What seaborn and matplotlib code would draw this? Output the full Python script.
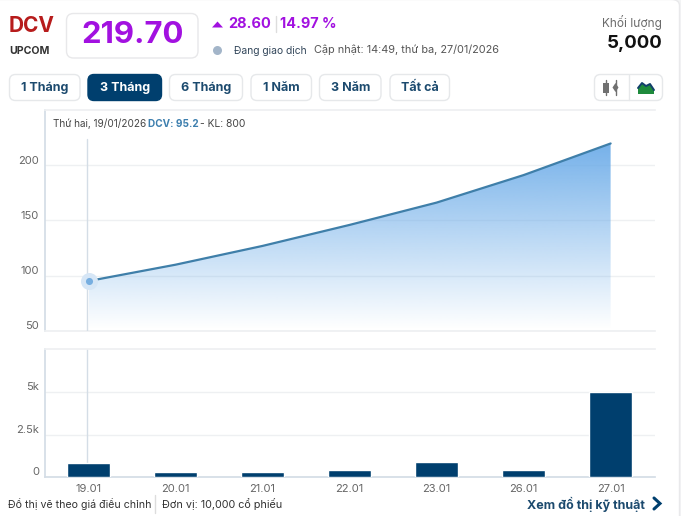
import numpy as np
import pandas as pd
import matplotlib
matplotlib.use("Agg")
import matplotlib.pyplot as plt
from matplotlib.patches import FancyBboxPatch, Rectangle, Circle, Polygon
from matplotlib.colors import to_rgb
from matplotlib.transforms import ScaledTranslation
import seaborn as sns

dates = ["19.01", "20.01", "21.01", "22.01", "23.01", "26.01", "27.01"]
prices = [95.2, 110, 127, 146, 166.2, 191.1, 219.7]
volumes = [800, 300, 300, 400, 900, 400, 5000]
price_ticks = [50, 100, 150, 200]
volume_ticks = [0, 2500, 5000]
volume_tick_labels = ["0", "2.5k", "5k"]
periods = ["1 Tháng", "3 Tháng", "6 Tháng", "1 Năm", "3 Năm", "Tất cả"]

sns.set_theme(style="white")
plt.rcParams["font.family"] = ["Inter", "DejaVu Sans"]

W, H = 681, 516
fig = plt.figure(figsize=(W / 100, H / 100), dpi=100, facecolor="#f3f4f5")
fig.add_artist(FancyBboxPatch((-10 / W, -10 / H), 689.5 / W, 516 / H + 0.001 + 10 / H,
                              boxstyle="round,pad=0,rounding_size=0.012", fc="white", ec="#e9e9eb",
                              lw=1, transform=fig.transFigure, zorder=-5))

def axes_px(l, t, r, b):
    return fig.add_axes([l / W, 1 - b / H, (r - l) / W, (b - t) / H])

NAVY = "#003f6e"
GRID = "#eef0f2"
AXISC = "#d4dde6"
TICK = "#666666"
X_RIGHT = 6.51

def lift_labels(a):
    for t in a.get_yticklabels():
        t.set_transform(t.get_transform() + ScaledTranslation(0, 4 / 72, fig.dpi_scale_trans))

df = pd.DataFrame({"date": dates, "price": prices, "volume": volumes})

# Price panel
ax = axes_px(45, 110, 655, 331)
ax.set_facecolor("none")
x = np.arange(len(dates))
sns.lineplot(x=x, y=df["price"], ax=ax, color="#3f7fa9", lw=1.6, zorder=4)
poly = ax.fill_between(x, df["price"], 50, color="none", lw=0)
grad = np.zeros((256, 1, 4))
grad[:, :, :3] = to_rgb("#69aae8")
grad[:, 0, 3] = np.linspace(0.92, 0, 256)
img = ax.imshow(grad, aspect="auto", extent=[0, 6, 52, max(prices)], zorder=2)
img.set_clip_path(poly.get_paths()[0], transform=ax.transData)
ax.set_xlim(-0.5, X_RIGHT)
ax.set_ylim(50, 250)
ax.set_yticks(price_ticks)
ax.set_xticks([])
ax.set_xlabel("")
ax.set_ylabel("")
ax.grid(axis="y", color=GRID, lw=1)
ax.set_axisbelow(True)
ax.tick_params(axis="y", length=0, labelsize=8, labelcolor=TICK, pad=4.3)
ax.spines["top"].set_color(GRID)
ax.spines["right"].set_visible(False)
ax.spines["left"].set_color(AXISC)
ax.spines["bottom"].set_color(GRID)
ax.plot([-0.012, -0.012], [50, 224], color=AXISC, lw=1, zorder=3)
ax.scatter([0], [prices[0]], s=150, color="#d6e6f6", zorder=5, lw=0)
ax.scatter([0], [prices[0]], s=26, color="#77aee0", zorder=6, lw=0)
lift_labels(ax)

# Volume panel
ax2 = axes_px(45, 349, 655, 477)
ax2.set_facecolor("none")
sns.barplot(data=df, x="date", y="volume", ax=ax2, color=NAVY, width=0.49,
            saturation=1, zorder=3)
ax2.set_xlim(-0.5, X_RIGHT)
ax2.set_ylim(0, 7530)
ax2.set_yticks(volume_ticks)
ax2.set_yticklabels(volume_tick_labels)
ax2.set_xlabel("")
ax2.set_ylabel("")
ax2.grid(axis="y", color=GRID, lw=1)
ax2.set_axisbelow(True)
ax2.tick_params(axis="y", length=0, labelsize=8, labelcolor=TICK, pad=4.3)
ax2.tick_params(axis="x", length=4, width=1, color=AXISC, labelsize=8, labelcolor=TICK, pad=1)
ax2.spines["top"].set_color(GRID)
ax2.spines["right"].set_visible(False)
ax2.spines["left"].set_color(AXISC)
ax2.spines["bottom"].set_color(AXISC)
ax2.axvline(-0.012, color=AXISC, lw=1, zorder=2)
lift_labels(ax2)

# Page overlay in pixel coordinates
ov = fig.add_axes([0, 0, 1, 1], zorder=10)
ov.set_xlim(0, W)
ov.set_ylim(H, 0)
ov.axis("off")
ov.patch.set_alpha(0)

def box(l, t, r, b, fc="white", ec="#e6e8ea", rad=6):
    ov.add_patch(FancyBboxPatch((l + rad, t + rad), r - l - 2 * rad, b - t - 2 * rad,
                                boxstyle=f"round,pad={rad},rounding_size={rad}",
                                fc=fc, ec=ec, lw=1))

def txt(x, y, s, size, color="#333333", weight="normal", ha="left"):
    ov.text(x, y, s, fontsize=size, color=color, fontweight=weight, ha=ha, va="center")

PURPLE = "#a211e0"
txt(8.5, 26, "DCV", 15, "#b71c1c", "bold")
txt(9, 51, "UPCOM", 7.6, "#333333", "bold")
box(66.5, 13.5, 198, 58, ec="#e8e8ea", rad=7)
txt(132.5, 35, "219.70", 22.4, PURPLE, "bold", "center")
ov.add_patch(Polygon([[212, 27.5], [223, 27.5], [217.5, 21.5]], fc=PURPLE, ec="none"))
txt(228, 24, "28.60", 10.5, PURPLE, "bold")
ov.plot([275.5, 275.5], [16, 32], color="#dddddd", lw=1)
txt(280.5, 24, "14.97 %", 10.4, PURPLE, "bold")
ov.add_patch(Circle((217.5, 50.5), 4.5, fc="#a3b5c9", ec="none"))
txt(234, 51, "Đang giao dịch", 7.4, "#33475b")
txt(313.5, 50, "Cập nhật: 14:49, thứ ba, 27/01/2026", 7.85, "#555555")
txt(662, 23, "Khối lượng", 8.5, "#6b6b6b", ha="right")
txt(662, 44, "5,000", 13.4, "#111111", "bold", "right")

btn_edges = [(9.5, 80), (88, 161.5), (169.5, 242.5), (251, 311.5), (319.5, 381), (390, 449.5)]
for (l, r), label in zip(btn_edges, periods):
    active = label == "3 Tháng"
    box(l, 74.5, r, 100.5, fc=NAVY if active else "white", ec=NAVY if active else "#e6e8ea", rad=6)
    txt((l + r) / 2, 88, label, 9, "white" if active else "#1c4a6e", "bold", "center")

box(594.5, 74.5, 662.5, 100.5, rad=6)
ov.plot([629, 629], [75, 100], color="#e6e8ea", lw=1)
for cx in (605.5, 615.5):
    ov.plot([cx, cx], [80, 95], color="#707070", lw=1)
ov.add_patch(Rectangle((603, 82.5), 5.5, 10, fc="#707070", ec="none"))
ov.add_patch(Polygon([[612.5, 87.5], [615.5, 83], [618.5, 87.5], [615.5, 92]], fc="#707070", ec="none"))
ov.add_patch(Polygon([[638, 94], [638, 88], [642, 83], [646, 86], [650, 84], [654, 90], [654, 94]],
                     fc="#1e8a3c", ec="none"))
ov.plot([638, 642, 646, 650, 654], [88, 83, 86, 84, 90], color="#123f6b", lw=1.4)

txt(53, 124, "Thứ hai, 19/01/2026", 7.15, "#444444")
txt(147.5, 124, "DCV: 95.2", 7.2, "#3d7fae", "bold")
txt(200.5, 124, "- KL: 800", 7.4, "#444444")

txt(8.5, 504, "Đồ thị vẽ theo giá điều chỉnh", 7.65, "#333333")
ov.plot([155, 155], [495, 513], color="#dddddd", lw=1)
txt(161.5, 504, "Đơn vị: 10,000 cổ phiếu", 7.8, "#333333")
txt(645, 504, "Xem đồ thị kỹ thuật", 9, "#1c4a6e", "bold", "right")
ov.plot([654, 660, 654], [498, 503.5, 509], color=NAVY, lw=2.2, solid_capstyle="round", solid_joinstyle="miter")

fig.savefig("out.png", dpi=100)
